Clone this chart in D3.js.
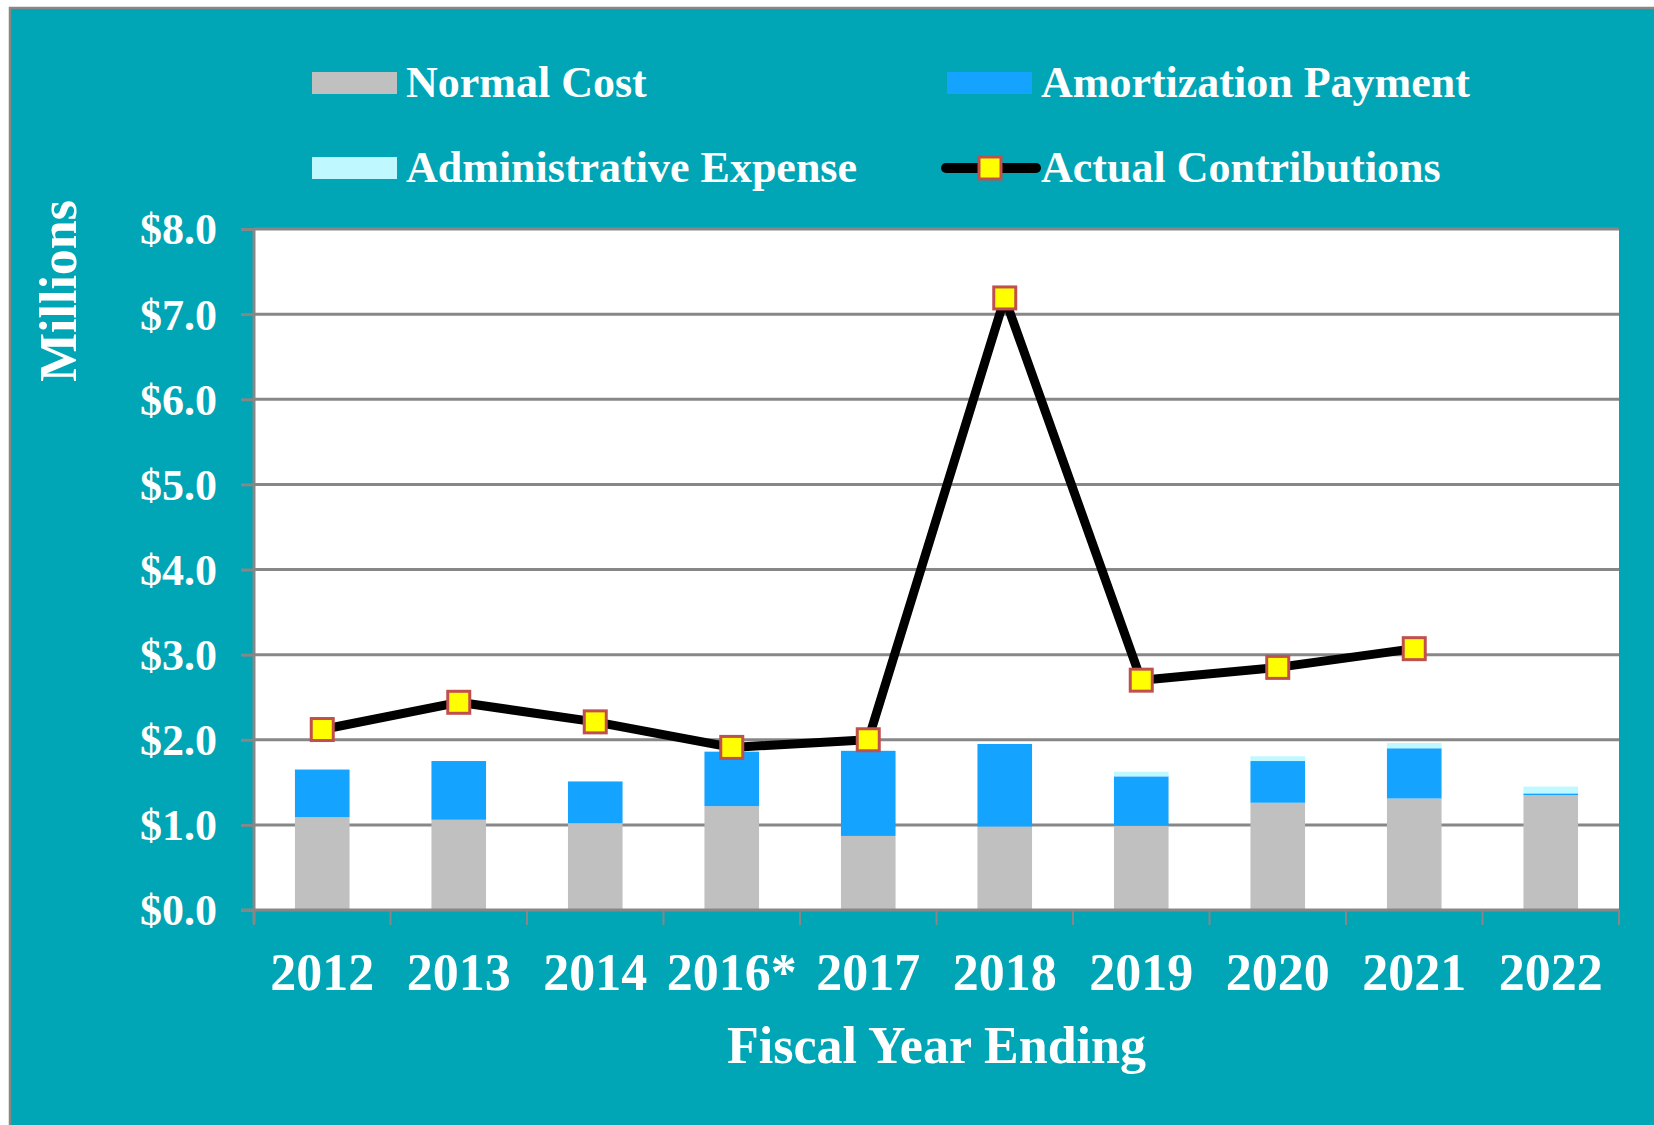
<!DOCTYPE html>
<html>
<head>
<meta charset="utf-8">
<script src="https://cdn.jsdelivr.net/npm/d3@7"></script>
<style>
  html, body { margin: 0; padding: 0; background: #ffffff; }
  #chart { width: 1654px; height: 1125px; }
  text { font-family: "Liberation Serif", "Times New Roman", serif; font-weight: bold; fill: #ffffff; }
</style>
</head>
<body>
<div id="chart"></div>
<script>
//<data>-------------------------------------//
var years = ["2012", "2013", "2014", "2016*", "2017", "2018", "2019", "2020", "2021", "2022"];
var normalCost = [1.09, 1.06, 1.02, 1.22, 0.87, 0.98, 0.99, 1.26, 1.31, 1.35];
var amortization = [0.56, 0.69, 0.49, 0.64, 1.00, 0.97, 0.58, 0.49, 0.59, 0.02];
var adminExpense = [0, 0, 0, 0, 0, 0, 0.055, 0.056, 0.062, 0.08];
var actualContrib = [2.12, 2.44, 2.21, 1.91, 2.00, 7.19, 2.70, 2.85, 3.07, null];
var yTicks = [0, 1, 2, 3, 4, 5, 6, 7, 8];
var seriesNames = ["Normal Cost", "Amortization Payment", "Administrative Expense", "Actual Contributions"];

//<setMargin>--------------------------------//
var W = 1654, H = 1125;
var margin = { top: 229, right: 35, bottom: 215, left: 254 };
var width = W - margin.left - margin.right,
    height = H - margin.top - margin.bottom;
var colors = ["#c0c0c0", "#14a3ff", "#bff8ff"];
var teal = "#00a5b6", gridGray = "#878787";

var svg = d3.select("#chart").append("svg")
    .attr("width", W).attr("height", H);

//outer panel
svg.append("rect")
    .attr("x", 10).attr("y", 8)
    .attr("width", W).attr("height", H)
    .attr("fill", teal)
    .attr("stroke", gridGray).attr("stroke-width", 2.5);

var g = svg.append("g").attr("transform", "translate(" + margin.left + "," + margin.top + ")");

g.append("rect").attr("width", width).attr("height", height).attr("fill", "#ffffff");

//<scales>-----------------------------------//
var x = d3.scaleBand().domain(years).range([0, width]).padding(0);
var y = d3.scaleLinear().domain([0, 8]).range([height, 0]);
var barW = x.bandwidth() * 0.4;

//grid
g.selectAll(".grid").data(yTicks.filter(function (d) { return d > 0; })).enter()
    .append("line")
    .attr("x1", 0).attr("x2", width)
    .attr("y1", function (d) { return y(d); }).attr("y2", function (d) { return y(d); })
    .attr("stroke", gridGray).attr("stroke-width", 3);

//<stacked bars>-----------------------------//
var rows = years.map(function (yr, i) {
    return { year: yr, nc: normalCost[i], am: amortization[i], ad: adminExpense[i] };
});
var stack = d3.stack().keys(["nc", "am", "ad"]);
var layers = stack(rows);

g.selectAll(".layer").data(layers).enter()
    .append("g")
    .attr("fill", function (d, i) { return colors[i]; })
    .selectAll("rect").data(function (d) { return d; }).enter()
    .append("rect")
    .attr("x", function (d) { return x(d.data.year) + (x.bandwidth() - barW) / 2; })
    .attr("width", barW)
    .attr("y", function (d) { return y(d[1]); })
    .attr("height", function (d) { return Math.max(0, y(d[0]) - y(d[1])); });

//<axes>-------------------------------------//
var yAxis = d3.axisLeft(y).tickValues(yTicks).tickSize(13).tickPadding(24)
    .tickFormat(function (d) { return "$" + d3.format(".1f")(d); });
var gy = g.append("g").call(yAxis);
gy.select(".domain").attr("stroke", gridGray).attr("stroke-width", 3)
    .attr("d", "M0," + (height + 14) + "V0");
gy.selectAll(".tick line").attr("stroke", gridGray).attr("stroke-width", 3).attr("x2", -13);
gy.selectAll(".tick text").style("font-size", "44px").attr("dy", "0.34em")
    .style("font-family", "Liberation Serif").style("font-weight", "bold").attr("fill", "#ffffff");

//x axis: ticks on band boundaries
var bounds = years.map(function (d) { return x(d); }).concat([width]);
var gx = g.append("g").attr("transform", "translate(0," + height + ")");
gx.append("line").attr("x1", -13).attr("x2", width).attr("stroke", gridGray).attr("stroke-width", 3);
gx.selectAll(".xt").data(bounds).enter().append("line")
    .attr("x1", function (d) { return d; }).attr("x2", function (d) { return d; })
    .attr("y1", 0).attr("y2", 15)
    .attr("stroke", gridGray).attr("stroke-width", 2);
gx.selectAll(".xl").data(years).enter().append("text")
    .attr("x", function (d) { return x(d) + x.bandwidth() / 2; })
    .attr("y", 80)
    .attr("text-anchor", "middle")
    .style("font-size", "52px")
    .text(function (d) { return d; });

//axis titles
svg.append("text")
    .attr("x", margin.left + width / 2).attr("y", 1063)
    .attr("text-anchor", "middle").style("font-size", "52px")
    .text("Fiscal Year Ending");
svg.append("text")
    .attr("transform", "translate(76,291) rotate(-90)")
    .attr("text-anchor", "middle").style("font-size", "52px")
    .text("Millions");

//<actual contributions line>----------------//
var pts = years.map(function (yr, i) { return { year: yr, v: actualContrib[i] }; })
    .filter(function (d) { return d.v != null; });
var line = d3.line()
    .x(function (d) { return x(d.year) + x.bandwidth() / 2; })
    .y(function (d) { return y(d.v); });
g.append("path").datum(pts)
    .attr("d", line)
    .attr("fill", "none").attr("stroke", "#000000").attr("stroke-width", 9)
    .attr("stroke-linejoin", "round");
g.selectAll(".mk").data(pts).enter().append("rect")
    .attr("x", function (d) { return x(d.year) + x.bandwidth() / 2 - 11; })
    .attr("y", function (d) { return y(d.v) - 11; })
    .attr("width", 22).attr("height", 22)
    .attr("fill", "#ffff00").attr("stroke", "#c0504d").attr("stroke-width", 3);

//<legend>-----------------------------------//
var legPos = [[312, 97], [947, 97], [312, 182], [947, 182]];
var leg = svg.append("g");
seriesNames.forEach(function (name, i) {
    var px = legPos[i][0], py = legPos[i][1];
    if (i < 3) {
        var ci = i == 2 ? 2 : i;
        leg.append("rect").attr("x", px).attr("y", py - 25).attr("width", 85).attr("height", 22)
            .attr("fill", colors[ci]);
    } else {
        leg.append("line").attr("x1", px - 1).attr("x2", px + 89).attr("y1", py - 14).attr("y2", py - 14)
            .attr("stroke", "#000000").attr("stroke-width", 10).attr("stroke-linecap", "round");
        leg.append("rect").attr("x", px + 32).attr("y", py - 25).attr("width", 22).attr("height", 22)
            .attr("fill", "#ffff00").attr("stroke", "#c0504d").attr("stroke-width", 3);
    }
    leg.append("text").attr("x", px + 94).attr("y", py)
        .style("font-size", "44px").text(name);
});
</script>
</body>
</html>
